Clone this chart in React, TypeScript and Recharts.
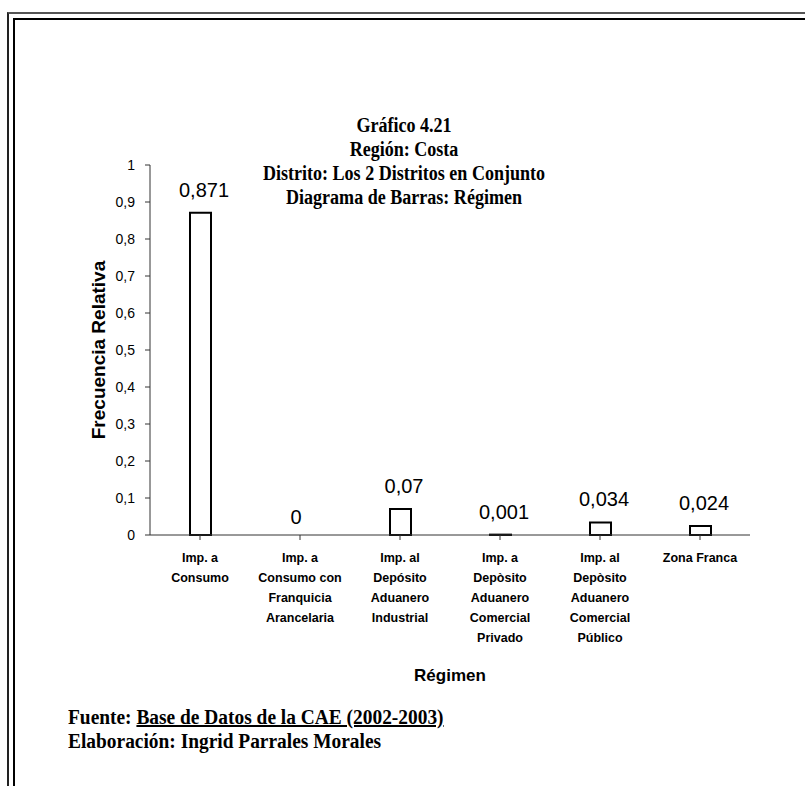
import React from "react";
import { ComposedChart, Bar, Line, XAxis, YAxis, LabelList } from "recharts";

const categories = [
  "Imp. a|Consumo",
  "Imp. a|Consumo con|Franquicia|Arancelaria",
  "Imp. al|Depósito|Aduanero|Industrial",
  "Imp. a|Depòsito|Aduanero|Comercial|Privado",
  "Imp. al|Depòsito|Aduanero|Comercial|Público",
  "Zona Franca",
];
const values = [0.871, 0, 0.07, 0.001, 0.034, 0.024];
const yTicks = [0, 0.1, 0.2, 0.3, 0.4, 0.5, 0.6, 0.7, 0.8, 0.9, 1];
const titleLines = [
  "Gráfico 4.21",
  "Región: Costa",
  "Distrito: Los 2 Distritos en Conjunto",
  "Diagrama de Barras: Régimen",
];

const data = categories.map((c, i) => ({ name: c, value: values[i] }));

const fmt = (v: number) => String(v).replace(".", ",");
const sans = "'Liberation Sans', Arial, sans-serif";

const XTick = (props: any) => {
  const { x, y, payload } = props;
  const lines = String(payload.value).split("|");
  return (
    <text
      x={x}
      y={y}
      textAnchor="middle"
      fontFamily={sans}
      fontWeight="bold"
      fontSize={12.5}
      fill="#000"
    >
      {lines.map((l: string, i: number) => (
        <tspan key={i} x={x} dy={i === 0 ? 19.5 : 20}>
          {l}
        </tspan>
      ))}
    </text>
  );
};

const ValueLabel = (props: any) => {
  const { x, y, value } = props;
  return (
    <text
      x={x + (value === 0 ? -4 : 4)}
      y={y - (value === 0 ? 11 : 16)}
      textAnchor="middle"
      fontFamily={sans}
      fontSize={20}
      fill="#000"
    >
      {fmt(value)}
    </text>
  );
};

export default function App() {
  const serif = "'Liberation Serif', 'Times New Roman', serif";
  return (
    <div
      style={{
        position: "absolute",
        left: 0,
        top: 0,
        width: 805,
        height: 786,
        background: "#fff",
        overflow: "hidden",
      }}
    >
      <div
        style={{
          position: "absolute",
          left: 7,
          top: 12,
          width: 900,
          height: 900,
          borderLeft: "2px solid #222",
          borderTop: "2px solid #555",
        }}
      />
      <div
        style={{
          position: "absolute",
          left: 13,
          top: 18,
          width: 900,
          height: 900,
          borderLeft: "2px solid #000",
          borderTop: "2px solid #000",
        }}
      />
      <div
        style={{
          position: "absolute",
          left: 0,
          top: 113,
          width: 808,
          textAlign: "center",
          fontFamily: serif,
          fontWeight: "bold",
          fontSize: 20.5,
          lineHeight: "24px",
          color: "#000",
        }}
      >
        {titleLines.map((t, i) => (
          <div key={i} style={{ transform: "scaleX(0.88)" }}>
            {t}
          </div>
        ))}
      </div>
      <div style={{ position: "absolute", left: 0, top: 0 }}>
        <ComposedChart
          width={805}
          height={786}
          data={data}
          margin={{ top: 165, right: 55, bottom: 111, left: 90 }}
        >
          <XAxis
            dataKey="name"
            interval={0}
            height={140}
            tick={<XTick />}
            tickSize={5}
            axisLine={{ stroke: "#333" }}
            tickLine={{ stroke: "#333" }}
            label={{
              value: "Régimen",
              position: "insideBottom",
              offset: 0,
              dy: 6,
              style: {
                fontFamily: sans,
                fontWeight: "bold",
                fontSize: 17,
                fill: "#000",
              },
            }}
          />
          <YAxis
            width={60}
            domain={[0, 1]}
            ticks={yTicks}
            interval={0}
            tickFormatter={fmt}
            tickSize={5}
            tickMargin={10}
            axisLine={{ stroke: "#333" }}
            tickLine={{ stroke: "#333" }}
            tick={{
              fontFamily: sans,
              fontSize: 14,
              fill: "#000",
            }}
            label={{
              value: "Frecuencia Relativa",
              angle: -90,
              position: "insideLeft",
              offset: 8,
              style: {
                textAnchor: "middle",
                fontFamily: sans,
                fontWeight: "bold",
                fontSize: 19,
                fill: "#000",
              },
            }}
          />
          <Bar
            dataKey="value"
            barSize={21}
            fill="#fff"
            stroke="#000"
            strokeWidth={2}
            isAnimationActive={false}
          />
          <Line
            dataKey="value"
            stroke="none"
            dot={false}
            activeDot={false}
            isAnimationActive={false}
          >
            <LabelList dataKey="value" content={<ValueLabel />} />
          </Line>
        </ComposedChart>
      </div>
      <div
        style={{
          position: "absolute",
          left: 68,
          top: 705,
          fontFamily: serif,
          fontWeight: "bold",
          fontSize: 20,
          lineHeight: "24px",
          color: "#000",
          whiteSpace: "nowrap",
          transform: "scaleX(0.97)",
          transformOrigin: "left top",
        }}
      >
        <div>
          Fuente:{" "}
          <span style={{ textDecoration: "underline" }}>
            Base de Datos de la CAE (2002-2003)
          </span>
        </div>
        <div>Elaboración: Ingrid Parrales Morales</div>
      </div>
    </div>
  );
}
